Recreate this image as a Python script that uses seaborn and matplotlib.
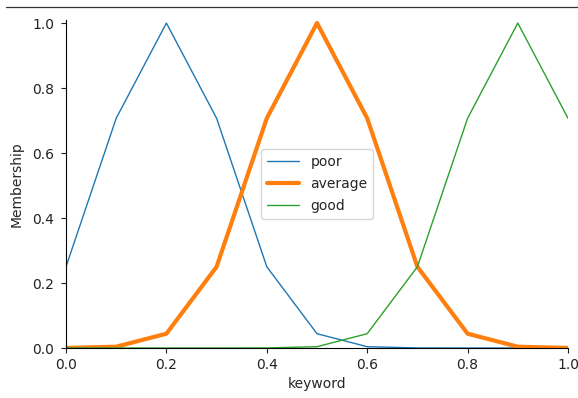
import numpy as np
import pandas as pd
import matplotlib
matplotlib.use("Agg")
import matplotlib.pyplot as plt
import seaborn as sns
from matplotlib.lines import Line2D

x_vals = [0.0, 0.1, 0.2, 0.3, 0.4, 0.5, 0.6, 0.7, 0.8, 0.9, 1.0]
poor = [0.25, 0.707, 1.0, 0.707, 0.25, 0.044, 0.004, 0.0002, 0.0, 0.0, 0.0]
average = [0.0002, 0.004, 0.044, 0.25, 0.707, 1.0, 0.707, 0.25, 0.044, 0.004, 0.0002]
good = [0.0, 0.0, 0.0, 0.0, 0.0002, 0.004, 0.044, 0.25, 0.707, 1.0, 0.707]
series_names = ["poor", "average", "good"]

sns.set_style("ticks")
plt.rcParams['font.family'] = ['DejaVu Sans']

W, H = 578, 398
fig = plt.figure(figsize=(W / 100, H / 100), dpi=100)
ax = fig.add_axes([66 / W, 1 - 348 / H, (568 - 66) / W, (348 - 19.8) / H])

colors = ["#1f77b4", "#ff7f0e", "#2ca02c"]
widths = [1.0, 3.0, 1.0]
for name, vals, c, w in zip(series_names, [poor, average, good], colors, widths):
    df = pd.DataFrame({"x": x_vals, "y": vals})
    sns.lineplot(data=df, x="x", y="y", ax=ax, color=c, linewidth=w, label=name)

ax.set_xlim(0, 1)
ax.set_ylim(0, 1.01)
ax.set_xticks([0.0, 0.2, 0.4, 0.6, 0.8, 1.0])
ax.set_yticks([0.0, 0.2, 0.4, 0.6, 0.8, 1.0])
ax.set_xlabel("keyword", fontsize=10)
ax.set_ylabel("Membership", fontsize=10, labelpad=6)
ax.tick_params(labelsize=10, colors="#222222", length=3.5, width=0.8)
ax.tick_params(axis="y", pad=5)
for s in ["top", "right"]:
    ax.spines[s].set_visible(False)
ax.spines["left"].set_color("black")
ax.spines["bottom"].set_color("black")
ax.spines["left"].set_linewidth(0.8)
ax.spines["bottom"].set_linewidth(0.8)
ax.legend(loc="center", fontsize=10, frameon=True, handlelength=2.35, labelspacing=0.6)

fig.add_artist(Line2D([6 / W, 1.0], [1 - 7 / H, 1 - 7 / H], color="#333333", linewidth=0.9))

fig.savefig("out.png", dpi=100)
